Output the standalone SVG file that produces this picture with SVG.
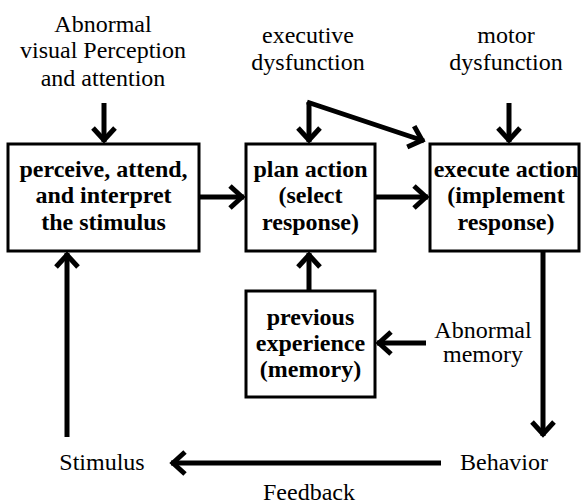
<svg xmlns="http://www.w3.org/2000/svg" width="585" height="504" viewBox="0 0 585 504">
<defs>
<marker id="ah" markerUnits="userSpaceOnUse" viewBox="-20 -15 24 30" markerWidth="24" markerHeight="30" refX="0" refY="0" orient="auto">
<path d="M-14,-11 L-2,0 L-14,11" fill="none" stroke="#000" stroke-width="5"/>
</marker>
</defs>
<rect width="585" height="504" fill="#fff"/>
<g id="label-visual">
<text x="103" y="32" font-size="24" font-family="Liberation Serif" text-anchor="middle">Abnormal</text>
<text x="103" y="58" font-size="24" font-family="Liberation Serif" text-anchor="middle">visual Perception</text>
<text x="103" y="86" font-size="24" font-family="Liberation Serif" text-anchor="middle">and attention</text>
</g>
<g id="label-executive">
<text x="308" y="43" font-size="24" font-family="Liberation Serif" text-anchor="middle">executive</text>
<text x="308" y="70" font-size="24" font-family="Liberation Serif" text-anchor="middle">dysfunction</text>
</g>
<g id="label-motor">
<text x="506" y="43" font-size="24" font-family="Liberation Serif" text-anchor="middle">motor</text>
<text x="506" y="70" font-size="24" font-family="Liberation Serif" text-anchor="middle">dysfunction</text>
</g>
<g id="perceive">
<rect x="8" y="144" width="191" height="107" fill="#fff" stroke="#000" stroke-width="3"/>
<text x="103.5" y="177" font-size="24" font-weight="bold" font-family="Liberation Serif" text-anchor="middle">perceive, attend,</text>
<text x="103.5" y="203" font-size="24" font-weight="bold" font-family="Liberation Serif" text-anchor="middle">and interpret</text>
<text x="103.5" y="230" font-size="24" font-weight="bold" font-family="Liberation Serif" text-anchor="middle">the stimulus</text>
</g>
<g id="plan">
<rect x="246" y="144" width="129" height="107" fill="#fff" stroke="#000" stroke-width="3"/>
<text x="310.5" y="177" font-size="24" font-weight="bold" font-family="Liberation Serif" text-anchor="middle">plan action</text>
<text x="310.5" y="203" font-size="24" font-weight="bold" font-family="Liberation Serif" text-anchor="middle">(select</text>
<text x="310.5" y="230" font-size="24" font-weight="bold" font-family="Liberation Serif" text-anchor="middle">response)</text>
</g>
<g id="execute">
<rect x="430" y="144" width="149" height="107" fill="#fff" stroke="#000" stroke-width="3"/>
<text x="506" y="177" font-size="24" font-weight="bold" font-family="Liberation Serif" text-anchor="middle">execute action</text>
<text x="506" y="203" font-size="24" font-weight="bold" font-family="Liberation Serif" text-anchor="middle">(implement</text>
<text x="506" y="230" font-size="24" font-weight="bold" font-family="Liberation Serif" text-anchor="middle">response)</text>
</g>
<g id="memory">
<rect x="246" y="291" width="129" height="106" fill="#fff" stroke="#000" stroke-width="3"/>
<text x="310.5" y="325" font-size="24" font-weight="bold" font-family="Liberation Serif" text-anchor="middle">previous</text>
<text x="310.5" y="351" font-size="24" font-weight="bold" font-family="Liberation Serif" text-anchor="middle">experience</text>
<text x="310.5" y="377" font-size="24" font-weight="bold" font-family="Liberation Serif" text-anchor="middle">(memory)</text>
</g>
<g id="label-abnormal-memory">
<text x="483" y="338" font-size="24" font-family="Liberation Serif" text-anchor="middle">Abnormal</text>
<text x="483" y="362" font-size="24" font-family="Liberation Serif" text-anchor="middle">memory</text>
</g>
<g id="stimulus"><text x="102" y="470" font-size="24" font-family="Liberation Serif" text-anchor="middle">Stimulus</text></g>
<g id="behavior"><text x="504" y="470" font-size="24" font-family="Liberation Serif" text-anchor="middle">Behavior</text></g>
<g id="label-feedback"><text x="309" y="500" font-size="24" font-family="Liberation Serif" text-anchor="middle">Feedback</text></g>
<g id="connectors" fill="none" stroke="#000" stroke-width="5">
<path d="M104,103 V142" marker-end="url(#ah)"/>
<path d="M309,102 V142" marker-end="url(#ah)"/>
<path d="M307,102 L424,141" marker-end="url(#ah)"/>
<path d="M509,103 V142" marker-end="url(#ah)"/>
<path d="M199,197 H244" marker-end="url(#ah)"/>
<path d="M375,197 H428" marker-end="url(#ah)"/>
<path d="M309,291 V253" marker-end="url(#ah)"/>
<path d="M426,343 H377" marker-end="url(#ah)"/>
<path d="M543,251 V436" marker-end="url(#ah)"/>
<path d="M441,463 H171" marker-end="url(#ah)"/>
<path d="M67,437 V253" marker-end="url(#ah)"/>
</g>
</svg>
